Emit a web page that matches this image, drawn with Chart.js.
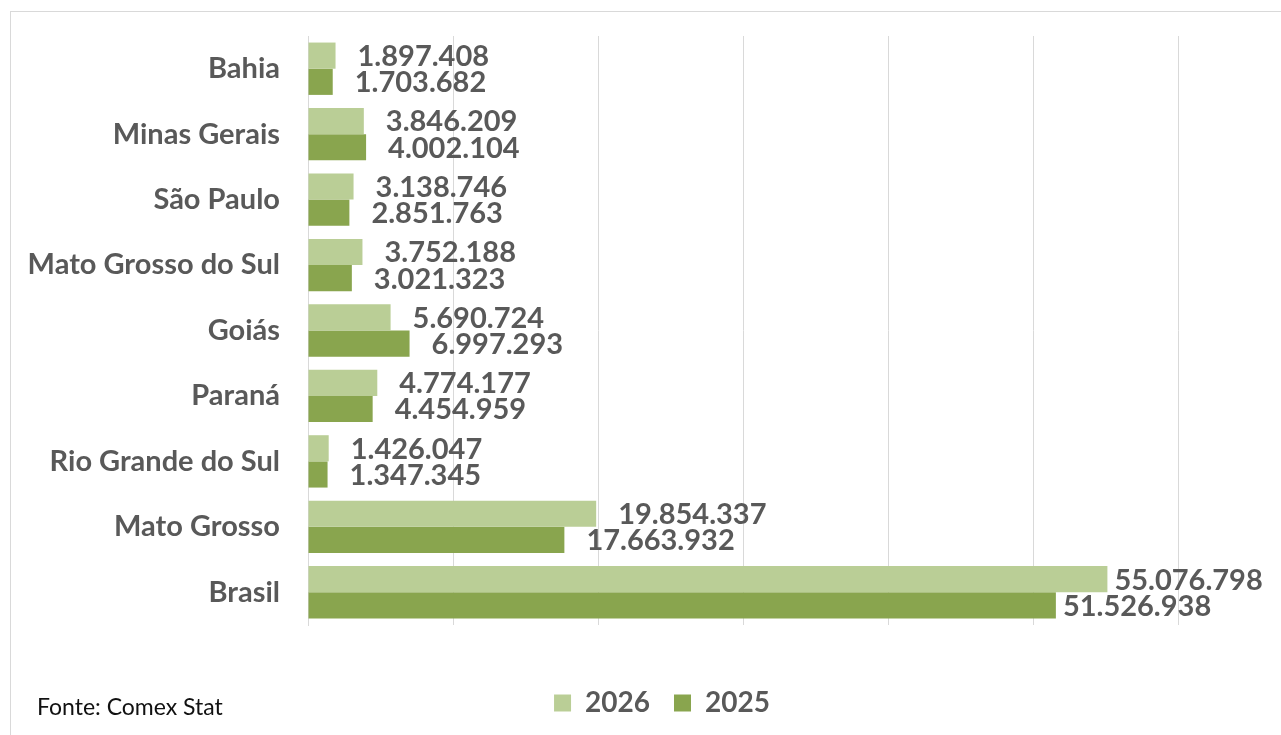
<!DOCTYPE html>
<html>
<head>
<meta charset="utf-8">
<script src="https://cdn.jsdelivr.net/npm/chart.js"></script>
<style>
    html, body { margin: 0; padding: 0; background: #fff; overflow: hidden; }
    #wrap { position: relative; width: 1281px; height: 735px; overflow: hidden; }
    #frame { position: absolute; left: 10px; top: 11px; width: 1400px; height: 800px;
             border-left: 1px solid #d9d9d9; border-top: 1px solid #d9d9d9; }
    #fonte { position: absolute; left: 37px; top: 692px; font: 23px Lato, sans-serif; color: #111; }
    canvas { position: absolute; left: 0; top: 0; }
</style>
</head>
<body>
<div id="wrap">
    <div id="frame"></div>
    <canvas id="exportChart" width="1340" height="735"></canvas>
    <div id="fonte">Fonte: Comex Stat</div>
</div>
<script>
// data
const categories = ['Bahia', 'Minas Gerais', 'São Paulo', 'Mato Grosso do Sul', 'Goiás', 'Paraná', 'Rio Grande do Sul', 'Mato Grosso', 'Brasil'];
const values2026 = [1897408, 3846209, 3138746, 3752188, 5690724, 4774177, 1426047, 19854337, 55076798];
const values2025 = [1703682, 4002104, 2851763, 3021323, 6997293, 4454959, 1347345, 17663932, 51526938];
const axisMax = 70000000;
const axisStep = 10000000;

function fmt(v) {
    return String(v).replace(/\B(?=(\d{3})+(?!\d))/g, '.');
}

// value labels at the end of each bar
const barLabels = {
    id: 'barLabels',
    afterDatasetsDraw(chart) {
        const ctx = chart.ctx;
        ctx.save();
        ctx.font = 'bold 29px Lato';
        ctx.fillStyle = '#595959';
        ctx.textBaseline = 'middle';
        chart.data.datasets.forEach((ds, i) => {
            chart.getDatasetMeta(i).data.forEach((bar, j) => {
                const gap = bar.x > 1000 ? 7 : 22; // tighter near the right edge
                ctx.fillText(fmt(ds.data[j]), bar.x + gap, bar.y + 1);
            });
        });
        ctx.restore();
    }
};

const ctx = document.getElementById('exportChart').getContext('2d');
new Chart(ctx, {
    type: 'bar',
    data: {
        labels: categories,
        datasets: [{
            label: '2026',
            data: values2026,
            backgroundColor: '#BACE96'
        }, {
            label: '2025',
            data: values2025,
            backgroundColor: '#89A54E'
        }]
    },
    options: {
        indexAxis: 'y',
        responsive: false,
        animation: false,
        categoryPercentage: 0.8,
        barPercentage: 1.0,
        layout: {
            padding: { left: 0, right: 16, top: 36, bottom: 8 }
        },
        scales: {
            x: {
                min: 0,
                max: axisMax,
                ticks: { display: false, stepSize: axisStep },
                grid: { color: '#d9d9d9', lineWidth: 1, drawTicks: false },
                border: { display: false },
                afterFit: function (scale) { scale.height = 40; }
            },
            y: {
                ticks: {
                    color: '#595959',
                    padding: 28,
                    font: { family: 'Lato', size: 29, weight: 'bold' }
                },
                grid: { display: false, drawTicks: false },
                border: { display: true, color: '#d9d9d9' },
                afterFit: function (scale) {
                    scale.width = 308;
                    scale.paddingTop = 0;
                    scale.paddingBottom = 0;
                }
            }
        },
        plugins: {
            legend: {
                position: 'bottom',
                labels: {
                    color: '#595959',
                    boxWidth: 17,
                    boxHeight: 17,
                    padding: 24,
                    font: { family: 'Lato', size: 28, weight: 'bold' }
                }
            },
            tooltip: { enabled: false }
        }
    },
    plugins: [barLabels]
});
</script>
</body>
</html>
